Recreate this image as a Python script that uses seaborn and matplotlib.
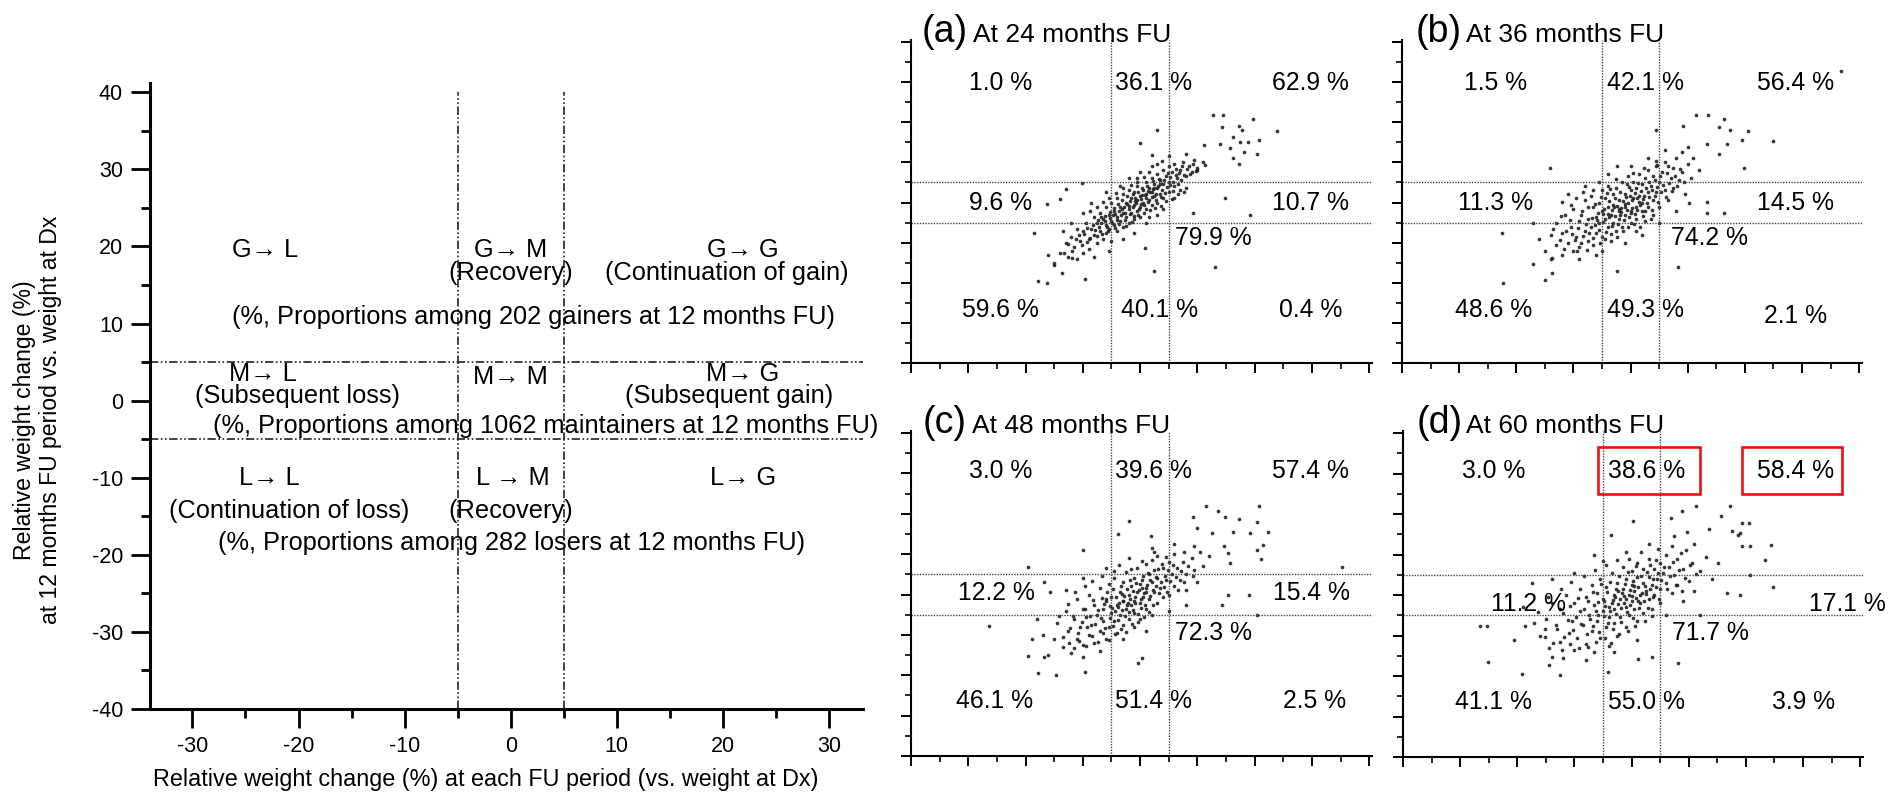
import numpy as np
import pandas as pd
import matplotlib
matplotlib.use("Agg")
import matplotlib.pyplot as plt
import seaborn as sns
from matplotlib.patches import Rectangle
from matplotlib.ticker import MultipleLocator

# ---------------- data ----------------
panel_letters = ["(a)", "(b)", "(c)", "(d)"]
panel_periods = ["At 24 months FU", "At 36 months FU", "At 48 months FU", "At 60 months FU"]

# proportions: [G->L, G->M, G->G, M->L, M->G, M->M, L->L, L->M, L->G]
pct_a = [1.0, 36.1, 62.9, 9.6, 10.7, 79.9, 59.6, 40.1, 0.4]
pct_b = [1.5, 42.1, 56.4, 11.3, 14.5, 74.2, 48.6, 49.3, 2.1]
pct_c = [3.0, 39.6, 57.4, 12.2, 15.4, 72.3, 46.1, 51.4, 2.5]
pct_d = [3.0, 38.6, 58.4, 11.2, 17.1, 71.7, 41.1, 55.0, 3.9]

threshold = 5
group_sizes = [202, 1062, 282]
group_names = ["gainers", "maintainers", "losers"]
transitions = ["G\u2192 L", "G\u2192 M", "G\u2192 G",
               "M\u2192 L", "M\u2192 M", "M\u2192 G",
               "L\u2192 L", "L \u2192 M", "L\u2192 G"]
transition_notes = ["", "(Recovery)", "(Continuation of gain)",
                    "(Subsequent loss)", "", "(Subsequent gain)",
                    "(Continuation of loss)", "(Recovery)", ""]

# scatter points (x: weight change at FU period, y: weight change at 12 months)
pts_a = [(12.7,21.8),(14.4,21.8),(14.3,18.9),(19.8,20.8),(23.9,17.9),(17.2,19.0),(17.8,18.0),
         (16.3,16.4),(20.7,15.7),(18.9,15.1),(14.0,14.7),(17.5,15.1),(15.7,13.5),(18.1,12.6),
         (20.4,12.2),(16.3,11.0),(17.2,9.7),(11.1,14.3),(2.9,18.0),(0.0,14.9),(2.1,11.8),
         (14.9,1.0),(19.2,-3.1),(13.1,-16.0),(2.5,-17.0),(-16.3,-0.4),(-13.9,0.8),(-12.9,3.3),
         (-10.2,4.9),(-18.6,-7.7),(-17.9,-19.5),(-16.3,-20.1),(-9.7,-19.1),(-15.1,-15.6),
         (-13.7,-17.6),(-13.3,-12.6),(-11.9,-13.9),(0.9,-11.4),(9.2,-2.7),(9.9,8.1),(11.4,9.3),
         (-14,-12.5),(-13,-10),(-12.5,-13.5),(-12,-8.5),(-11.5,-11),(-11,-6.5),(-10.5,-9.5),
         (-10,-12.5),(-10,-7),(-9.5,-5),(-9,-9),(-9,-11.5),(-8.5,-6.5),(-8,-3.5),(-8,-8),
         (-7.5,-10),(-7.5,-5),(-7,-2.5),(-7,-7),(-6.5,-4),(-6.5,-9),(-6,-1),(-6,-5.5),(-6,-7.5),
         (-5.5,-3),(-5.5,-6.5),(-5,0),(-5,-4.5),(-5,-9.5),(-4.5,-2),(-4.5,-5.5),(-4,1),(-4,-3.5),
         (-4,-7),(-3.5,-1),(-3.5,-4.5),(-3,2),(-3,-2.5),(-3,-6),(-2.5,0),(-2.5,-3.5),(-2,3),
         (-2,-1.5),(-2,-5),(-1.5,1),(-1.5,-2.5),(-1,2.5),(-1,-0.5),(-1,-4),(-0.5,4),(-0.5,0.5),
         (-0.5,-2),(0,1.5),(0,-1),(0,-3.5),(0.5,3),(0.5,0),(1,5),(1,2),(1,-1.5),(1.5,3.5),
         (1.5,0.5),(2,6),(2,2.5),(2,-0.5),(2.5,4.5),(2.5,1.5),(3,7),(3,3.5),(3,0),(3.5,5.5),
         (3.5,2),(4,8),(4,4.5),(4,1),(4.5,6.5),(5,9),(5,5),(5,2.5),(5.5,7.5),(6,4),(6,9.5),
         (6.5,6),(7,8),(7,3),(7.5,10),(8,6.5),(8.5,9),(9,7.5),(9.5,10.5),(10,8.5),(11,10),
         (-16,-13),(-15,-15),(-13.5,-7),(-11,-14),(-8,-13.5),(-5.5,-12),(-3,-9),(-1,-7.5),
         (1,-5),(3,-3),(-6,2.5),(-8.5,0),(-10,-2.5),(-12,-5),(4,-1.5),(6,1),(8,3.5),(-2,6),
         (0,7.5),(2,9),(5,11.5),(8,12),(-3.5,4),(-0.5,6)]
dense_a = [(-11.2,-9.1),(-10.7,-8.2),(-9.8,-7.9),(-9.3,-6.4),(-8.8,-8.8),(-8.2,-5.6),(-7.9,-6.9),
           (-7.3,-4.4),(-7.1,-6.1),(-6.8,-5.2),(-6.2,-3.3),(-6.1,-4.6),(-5.8,-6.0),(-5.3,-2.4),
           (-5.2,-3.8),(-4.9,-5.1),(-4.6,-1.3),(-4.3,-2.9),(-4.1,-4.3),(-3.8,-0.4),(-3.7,-2.1),
           (-3.3,-3.2),(-3.2,0.7),(-2.8,-1.1),(-2.7,-4.4),(-2.3,1.6),(-2.2,-0.3),(-1.8,-2.8),
           (-1.7,0.4),(-1.3,2.1),(-1.2,-1.2),(-0.8,1.2),(-0.7,-0.1),(-0.3,2.7),(-0.2,-1.6),
           (0.2,0.9),(0.3,3.6),(0.7,-0.6),(0.8,1.8),(1.2,4.2),(1.3,0.2),(1.7,2.6),(1.8,-1.9),
           (2.2,3.3),(2.3,5.3),(2.7,0.6),(2.8,2.1),(3.2,4.1),(3.3,5.9),(3.7,1.3),(3.8,3.2),
           (4.2,5.6),(4.3,2.3),(4.7,3.9),(4.8,7.4),(5.2,4.4),(5.3,6.3),(5.7,2.8),(5.8,5.1),
           (6.2,6.8),(6.3,8.4),(6.7,4.7),(6.8,7.3),(7.2,5.6),(7.3,9.2),(7.7,6.8),(8.2,8.3),
           (8.7,7.1),(9.2,9.6),(9.8,7.9),(-12.6,-10.3),(-11.8,-12.2),(-10.2,-10.7),(-9.2,-9.8),
           (-7.6,-8.4),(-6.7,-7.9),(-5.6,-7.2),(-4.4,-6.4),(-3.6,-5.4),(-2.4,-5.8),(-1.4,-4.8),
           (-0.4,-3.1),(0.6,-2.7),(1.6,-3.6),(2.6,-1.4),(3.6,-0.9),(4.6,0.3),(5.6,0.9),(6.6,2.1),
           (7.6,2.6),(-8.7,-2.1),(-7.6,-1.2),(-6.4,0.2),(-5.4,1.1),(-4.2,2.4),(-2.9,3.7),
           (-1.6,4.4),(-0.6,5.2),(0.6,6.3),(1.6,7.6),(2.9,9.6),(3.9,10.3),(-3.1,-1.7),(-1.9,-0.8),
           (-0.9,0.3),(0.1,-0.4),(1.1,1.1),(2.1,1.4),(-2.6,-2.6),(-1.1,-3.3),(0.4,1.9),(1.4,2.9),
           (2.4,3.6),(3.4,4.7),(-4.8,-3.1),(-6.9,-3.6)]

pts_b = [(36.9,32.8),(11.5,21.8),(13.5,21.8),(16.3,20.7),(15.4,18.9),(17.4,18.0),(20.6,17.9),
         (9.2,19.0),(25.0,15.3),(19.5,15.7),(13.4,14.7),(16.9,14.7),(15.4,12.2),(10.1,13.9),
         (4.5,18.0),(19.9,8.5),(-14.1,8.7),(-22.5,-7.7),(-22.3,-20.1),(-17.0,-15.3),
         (-14.9,-19.3),(-13.8,-17.6),(-13.8,-13.9),(-2.4,-17.0),(8.3,-16.0),(13.4,-2.7),
         (13.4,0.2),(16.3,-2.7),(10.3,-0.2),(4.6,9.3),(-2.4,9.2),(-12.0,0.2),
         (-15,-12),(-14,-8),(-13,-10.5),(-13,-5),(-12,-13),(-12,-7.5),(-11.5,-3),(-11,-10),
         (-10.5,-6),(-10,-12),(-10,-1.5),(-9.5,-8.5),(-9,-4.5),(-9,-11),(-8.5,-2),(-8,-7),
         (-8,0.5),(-7.5,-9.5),(-7.5,-4),(-7,-6),(-7,1.5),(-6.5,-1),(-6.5,-10.5),(-6,-3.5),
         (-6,-7.5),(-5.5,0),(-5.5,-5),(-5,3),(-5,-2),(-5,-8.5),(-4.5,-4),(-4.5,1),(-4,-6),
         (-4,-1),(-4,4),(-3.5,-3),(-3.5,-9.5),(-3,2),(-3,-5),(-3,-0.5),(-2.5,-7),(-2.5,3.5),
         (-2,-2),(-2,0.5),(-2,-4),(-1.5,5),(-1.5,-6),(-1,-1),(-1,2),(-1,-3),(-0.5,6.5),
         (-0.5,0),(0,-2.5),(0,3),(0,-5),(0.5,1),(0.5,5),(1,-1),(1,3.5),(1,-4),(1.5,7),
         (1.5,1.5),(2,-2),(2,4.5),(2,0),(2.5,6),(2.5,-4.5),(3,2.5),(3,8),(3,-1),(3.5,4),
         (4,0.5),(4,6.5),(4,-3),(4.5,9),(4.5,2.5),(5,5),(5,-1),(5.5,7.5),(6,3),(6,10),
         (6.5,0.5),(7,6),(7.5,8.5),(7.5,3.5),(8,11),(8.5,5.5),(9,7.5),(9.5,2),(10,9.5),
         (10.5,6),(11,11),(12,8),(-16,-9),(-14,-14),(-9,-14),(-5,-12),(-1,-10),(2,-8),(5,-5),
         (-11,2),(-8,4),(-4,7),(0,9),(3,11),(6,13),(9,12.5),(-17,-5),(-6,-13),(1,-7),(8,-2)]
dense_b = [(-11.3,-7.2),(-10.6,-4.4),(-9.7,-9.3),(-9.2,-6.3),(-8.7,-3.1),(-8.3,-8.4),(-7.8,-5.3),
           (-7.4,-1.2),(-7.2,-7.6),(-6.8,-3.8),(-6.3,-5.7),(-6.2,-0.3),(-5.7,-2.6),(-5.6,-6.8),
           (-5.2,1.4),(-4.8,-4.9),(-4.7,-1.6),(-4.3,-7.3),(-4.2,2.3),(-3.8,-3.6),(-3.7,0.4),
           (-3.3,-5.8),(-3.2,-1.9),(-2.8,1.2),(-2.7,-3.3),(-2.3,-0.8),(-2.2,-5.4),(-1.8,2.7),
           (-1.7,-2.4),(-1.3,0.3),(-1.2,-4.3),(-0.8,1.4),(-0.7,-1.8),(-0.3,3.8),(-0.2,-3.6),
           (0.2,0.6),(0.3,-1.4),(0.7,2.4),(0.8,-2.9),(1.2,1.1),(1.3,4.8),(1.7,-0.6),(1.8,2.9),
           (2.2,-3.3),(2.3,1.7),(2.7,3.6),(2.8,-0.2),(3.2,5.2),(3.3,1.3),(3.7,-1.8),(3.8,3.1),
           (4.2,5.7),(4.3,1.7),(4.7,3.8),(4.8,0.1),(5.2,6.6),(5.3,2.6),(5.7,4.4),(6.2,1.4),
           (6.3,7.3),(6.7,4.9),(7.2,2.8),(7.7,6.6),(8.2,4.2),(8.7,8.3),(9.3,5.1),(-12.4,-9.4),
           (-11.7,-11.6),(-10.3,-7.9),(-9.4,-12.1),(-8.6,-10.2),(-7.6,-11.8),(-6.6,-8.9),
           (-5.4,-10.1),(-4.4,-9.2),(-3.4,-7.9),(-2.4,-8.6),(-1.4,-7.1),(-0.4,-6.2),(0.6,-5.3),
           (1.6,-6.1),(2.6,-2.2),(3.6,-4.2),(-13.6,-6.6),(-12.2,-3.4),(-10.4,-0.6),(-9.6,1.1),
           (-8.4,2.6),(-6.6,3.2),(-5.6,5.1),(-3.6,3.3),(-2.6,5.8),(-0.6,4.6),(0.4,7.4),(2.4,8.7),
           (4.4,10.3),(6.6,9.1),(-3.9,-2.8),(-2.9,-1.2),(-1.9,-3.1),(-0.9,-0.4),(0.1,-2.2),
           (1.1,-1.9),(2.1,0.8),(-4.9,-2.9),(-5.9,-4.3),(-1.6,-1.3),(-0.1,1.6),(1.4,0.2),(-2.1,-1.7)]

pts_c = [(11.5,21.8),(13.6,20.7),(14.9,19.3),(17.2,18.8),(20.7,21.8),(9.2,19.1),(20.5,17.9),
         (-2.0,18.1),(-3.8,15.0),(1.9,14.4),(9.9,16.4),(12.5,15.2),(16.3,15.6),(19.2,15.2),
         (22.3,15.4),(14.6,12.1),(21.4,12.3),(15.4,10.2),(20.4,11.1),(21.1,8.8),(15.7,7.9),
         (35.2,6.9),(-10.0,11.1),(-19.5,6.8),(-26.4,-7.8),(-18.9,-11.1),(-19.6,-15.2),
         (-16.8,-15.5),(-17.8,-19.5),(-14.7,-19.9),(-9.7,-19.1),(-0.3,-17.0),(0.4,-15.8),
         (19.1,-0.1),(15.4,-0.1),(14.3,-2.7),(20.4,-5.0),(-15.7,0.5),(-16.8,3.0),
         (-15,-11),(-14.5,-7),(-13.5,-13),(-13,-4),(-12.5,-9),(-12,-14.5),(-11.5,-6),
         (-11,-11),(-11,-1),(-10.5,-8),(-10,-3.5),(-10,-12.5),(-9.5,-5.5),(-9,-10),(-9,0),
         (-8.5,-7.5),(-8,-2.5),(-8,-12),(-7.5,-5),(-7,1.5),(-7,-9),(-6.5,-3.5),(-6.5,-6.5),
         (-6,-1),(-6,-11),(-5.5,-8),(-5.5,2.5),(-5,-4.5),(-5,-0.5),(-4.5,-6.5),(-4.5,4),
         (-4,-2.5),(-4,-9.5),(-3.5,0.5),(-3.5,-5),(-3,3),(-3,-7.5),(-3,-1.5),(-2.5,-3.5),
         (-2.5,5.5),(-2,0),(-2,-6),(-1.5,2),(-1.5,-2.5),(-1,-4.5),(-1,4),(-1,-8),(-0.5,0.5),
         (-0.5,6.5),(0,-2),(0,2.5),(0,-6),(0.5,4.5),(0.5,-0.5),(1,7.5),(1,1.5),(1,-3.5),
         (1.5,5),(1.5,-1),(2,3),(2,8.5),(2,-5),(2.5,0.5),(2.5,6),(3,-2),(3,4),(3,9.5),
         (3.5,1.5),(4,6.5),(4,-0.5),(4.5,3.5),(5,8),(5,0),(5.5,5),(6,2),(6,10),(6.5,6.5),
         (7,3.5),(7.5,8),(8,5),(8,1),(9,9),(9.5,6),(10,3),(10.5,10.5),(11,7),(12,9.5),
         (-17,-10),(-16,-15),(-10,-15.5),(-7,-14),(-3,-11),(1,-9),(-13,1),(-10,4),(-6,6.5),
         (-2,9),(2,11.5),(6,12.5),(9.5,12),(-18,-6),(5,-4),(8,-2.5)]
dense_c = [(-12.3,-8.4),(-11.7,-5.2),(-10.8,-9.6),(-10.2,-6.7),(-9.7,-3.6),(-9.3,-8.1),(-8.7,-5.4),
           (-8.2,-1.3),(-7.8,-7.2),(-7.3,-3.8),(-6.8,-5.7),(-6.7,-0.8),(-6.3,-2.3),(-6.2,-8.3),
           (-5.7,0.6),(-5.3,-5.9),(-5.2,-2.8),(-4.8,-7.8),(-4.7,1.4),(-4.3,-4.2),(-4.2,-0.6),
           (-3.8,-6.2),(-3.7,-2.1),(-3.3,2.2),(-3.2,-3.8),(-2.8,-0.4),(-2.7,-5.3),(-2.3,1.3),
           (-2.2,-2.7),(-1.8,3.6),(-1.7,-1.1),(-1.3,-3.9),(-1.2,0.9),(-0.8,-2.2),(-0.7,2.9),
           (-0.3,-4.9),(-0.2,1.2),(0.2,-1.2),(0.3,3.6),(0.7,0.4),(0.8,-2.6),(1.2,2.3),(1.3,5.4),
           (1.7,-0.3),(1.8,3.7),(2.2,1.1),(2.3,-2.6),(2.7,4.4),(2.8,2.2),(3.2,6.3),(3.3,0.3),
           (3.7,3.1),(3.8,7.6),(4.2,1.8),(4.3,4.7),(4.7,0.6),(4.8,6.1),(5.2,3.3),(5.7,7.2),
           (6.2,4.3),(6.7,1.2),(7.2,5.9),(7.7,3.2),(8.4,7.1),(9.2,4.6),(-13.4,-10.6),(-12.4,-12.1),
           (-11.6,-13.2),(-10.6,-11.4),(-9.4,-12.7),(-8.4,-10.3),(-7.4,-11.7),(-6.4,-9.6),
           (-5.4,-11.2),(-4.4,-9.9),(-3.4,-8.6),(-2.4,-9.3),(-1.4,-7.2),(-0.4,-6.8),(0.6,-5.6),
           (1.6,-4.4),(-14.1,-5.3),(-12.6,-2.3),(-11.4,0.6),(-9.6,2.2),(-8.4,3.4),(-6.6,4.6),
           (-4.6,5.9),(-3.6,7.4),(-1.6,6.3),(0.4,8.4),(2.4,10.6),(4.6,9.3),(7.6,10.6),(-3.9,-3.1),
           (-2.9,-1.6),(-1.9,-4.4),(-0.9,-0.7),(0.1,-3.3),(1.1,0.6),(-4.9,-3.4),(-5.9,-1.6),
           (-2.1,-2.1),(-1.1,-1.7),(0.4,1.7),(-3.1,0.2)]

pts_d = [(11.3,21.9),(17.3,21.9),(8.8,20.7),(6.9,19.0),(0.3,18.2),(15.6,19.4),(20.6,17.9),
         (19.3,17.9),(13.6,16.3),(17.6,15.7),(18.6,14.9),(19.0,15.3),(-3.6,14.9),(7.5,14.5),
         (9.7,15.5),(24.4,12.4),(20.8,12.1),(19.3,12.0),(23.4,8.7),(15.2,7.9),(20.8,5.0),
         (24.7,2.1),(18.9,0.0),(16.7,0.4),(12.0,-5.0),(8.1,-16.9),(-6.6,9.9),(-26.5,-7.7),
         (-25.3,-7.7),(-18.7,-7.7),(-20.5,-11.0),(-17.4,2.9),(-25.2,-16.5),(-19.2,-19.4),
         (-12.5,-19.8),(-14.5,-17.4),(-15.1,-10.3),(-13.9,-15.3),(-4.1,-19.0),(1.2,-15.7),
         (3.6,-15.3),
         (-16,-10),(-15,-6),(-14.5,-13),(-14,-2),(-13,-8.5),(-12.5,-11.5),(-12,-4.5),
         (-11.5,0),(-11,-9.5),(-10.5,-6.5),(-10,-13.5),(-10,-2),(-9.5,-10.5),(-9,-4),
         (-9,1.5),(-8.5,-7.5),(-8,-0.5),(-8,-12),(-7.5,-5),(-7,2.5),(-7,-9),(-6.5,-2.5),
         (-6.5,-14),(-6,-6.5),(-6,0.5),(-5.5,-10.5),(-5.5,4),(-5,-4),(-5,-1),(-4.5,-8),
         (-4.5,2),(-4,-5.5),(-4,-12.5),(-3.5,-2),(-3.5,5.5),(-3,0),(-3,-7),(-3,-3.5),
         (-2.5,3),(-2.5,-10),(-2,-1),(-2,-5.5),(-1.5,1.5),(-1.5,7),(-1,-3),(-1,4),(-1,-8),
         (-0.5,0),(-0.5,-5),(0,2.5),(0,-1.5),(0,6),(0.5,-3.5),(0.5,1),(1,4.5),(1,-6.5),
         (1,8),(1.5,0),(1.5,-2),(2,3),(2,6.5),(2,-4.5),(2.5,1),(3,4.5),(3,-1),(3,9),
         (3.5,2.5),(3.5,-3.5),(4,6.5),(4,0),(4.5,4),(5,8),(5,1.5),(5,-2),(5.5,5.5),(6,10),
         (6,3),(6.5,7),(7,0.5),(7.5,5),(8,9),(8,2.5),(9,6.5),(9.5,11),(10,3.5),(10.5,8),
         (11,1),(12,6),(13,9.5),(-17,-7),(-12,-15.5),(-8,-16),(-3,-14),(1,-11),(-14,4),
         (-10,5.5),(-5,8.5),(-1,10.5),(3,12.5),(7,12),(11,12.5),(-19,-3),(6,-5),(9,-1.5),(14,4)]
dense_d = [(-13.2,-7.3),(-12.6,-3.4),(-11.8,-10.3),(-11.2,-6.1),(-10.7,-2.8),(-10.3,-8.6),
           (-9.7,-5.4),(-9.3,-0.7),(-8.8,-7.1),(-8.3,-3.4),(-7.8,-9.6),(-7.7,-1.6),(-7.3,-5.8),
           (-6.8,0.8),(-6.7,-7.6),(-6.3,-3.9),(-5.8,-1.7),(-5.7,-9.1),(-5.3,2.6),(-4.8,-5.2),
           (-4.7,-2.6),(-4.3,0.7),(-4.2,-6.8),(-3.8,-3.9),(-3.7,3.3),(-3.3,-1.2),(-3.2,-8.4),
           (-2.8,1.6),(-2.7,-4.6),(-2.3,-2.3),(-2.2,4.7),(-1.8,-6.6),(-1.7,0.4),(-1.3,-1.9),
           (-1.2,2.8),(-0.8,-4.3),(-0.7,5.6),(-0.3,-2.4),(-0.2,1.2),(0.2,-5.7),(0.3,3.4),
           (0.7,-0.8),(0.8,7.1),(1.2,1.9),(1.3,-3.1),(1.7,4.8),(1.8,0.6),(2.2,-1.4),(2.3,2.3),
           (2.7,5.6),(2.8,-3.2),(3.2,1.6),(3.3,7.4),(3.7,3.9),(3.8,-0.6),(4.2,2.1),(4.3,8.6),
           (4.7,5.4),(4.8,-1.1),(5.2,3.6),(5.7,6.9),(6.2,1.6),(6.7,4.6),(7.2,8.2),(7.7,2.4),
           (8.3,6.1),(8.8,0.9),(9.4,4.3),(10.2,7.4),(11.3,5.1),(-15.2,-8.3),(-13.8,-11.8),
           (-12.2,-13.6),(-10.8,-12.1),(-9.2,-13.2),(-7.6,-12.9),(-6.2,-11.6),(-4.6,-10.6),
           (-3.6,-11.9),(-2.2,-9.6),(-0.6,-8.9),(0.6,-7.6),(2.4,-6.3),(3.6,-5.1),(-16.4,-4.1),
           (-14.6,-0.6),(-12.4,1.6),(-10.6,3.1),(-8.4,4.6),(-6.4,6.1),(-4.4,7.3),(-2.6,8.6),
           (-0.4,8.9),(1.6,10.6),(4.6,11.4),(8.6,10.4),(-3.9,-2.9),(-2.9,-0.6),(-1.9,-3.3),
           (-0.9,-1.1),(0.1,-0.3),(1.1,-1.6),(-4.9,-1.4),(-5.9,-4.9),(-1.4,-0.2),(0.4,2.2),
           (-2.4,0.9),(2.6,0.2)]

# ---------------- style ----------------
sns.set_theme(style="ticks")
plt.rcParams["font.family"] = ["Liberation Sans", "DejaVu Sans"]
plt.rcParams["axes.unicode_minus"] = False
plt.rcParams["axes.edgecolor"] = "black"
plt.rcParams["xtick.color"] = "black"
plt.rcParams["ytick.color"] = "black"
plt.rcParams["text.color"] = "black"
plt.rcParams["axes.labelcolor"] = "black"

W, H = 1897, 798
fig = plt.figure(figsize=(W / 100, H / 100), dpi=100)


def px_axes(left, top, right, bottom):
    return fig.add_axes([left / W, 1 - bottom / H, (right - left) / W, (bottom - top) / H])


# ---------------- left schematic panel ----------------
ax0 = px_axes(150, 83, 863, 709)
ax0.set_xlim(-34, 33.2)
ax0.set_ylim(-40, 41.2)
sns.despine(ax=ax0)
for s in ("left", "bottom"):
    ax0.spines[s].set_linewidth(2.2)
ax0.xaxis.set_major_locator(MultipleLocator(10))
ax0.xaxis.set_minor_locator(MultipleLocator(5))
ax0.yaxis.set_major_locator(MultipleLocator(10))
ax0.yaxis.set_minor_locator(MultipleLocator(5))
ax0.tick_params(which="major", direction="out", length=13.5, width=2.0, labelsize=15.5, pad=6)
ax0.tick_params(which="minor", direction="out", length=6.5, width=2.0)
ax0.set_xticks([-30, -20, -10, 0, 10, 20, 30])
ax0.set_yticks([-40, -30, -20, -10, 0, 10, 20, 30, 40])

ls_dd = (0, (5, 1.5, 1, 1.5, 1, 1.5))
for v in (-threshold, threshold):
    ax0.vlines(v, -40, 40, colors="#222222", linestyles=[ls_dd], linewidth=1.2)
    ax0.axhline(v, color="#222222", linestyle=ls_dd, linewidth=1.2)

tx = [(-23.2, 19.5), (0.0, 19.5), (21.9, 19.5),
      (-23.4, 3.4), (0.0, 3.0), (21.9, 3.4),
      (-22.8, -10.1), (0.2, -10.1), (21.9, -10.1)]
nx = [None, (0.0, 16.5), (20.4, 16.5),
      (-20.1, 0.55), None, (20.6, 0.55),
      (-20.9, -14.3), (0.0, -14.3), None]
for lab, note, p, q in zip(transitions, transition_notes, tx, nx):
    ax0.text(p[0], p[1], lab, ha="center", va="center", fontsize=18.3)
    if note:
        ax0.text(q[0], q[1], note, ha="center", va="center", fontsize=18.3)
note_pos = [(2.1, 10.9), (3.3, -3.3), (0.1, -18.5)]
for n, g, p in zip(group_sizes, group_names, note_pos):
    ax0.text(p[0], p[1], f"(%, Proportions among {n} {g} at 12 months FU)",
             ha="center", va="center", fontsize=18.3)

ax0.set_xlabel("Relative weight change (%) at each FU period (vs. weight at Dx)",
               fontsize=16.8, va="center")
ax0.xaxis.set_label_coords(0.471, -0.113)
ax0.set_ylabel("Relative weight change (%)\nat 12 months FU period vs. weight at Dx",
               fontsize=16.6, va="center", linespacing=1.15)
ax0.yaxis.set_label_coords(-0.158, 0.462)

# ---------------- four scatter panels ----------------
boxes = [(911, 40, 1372, 363), (1402, 40, 1862, 363),
         (911, 431, 1372, 756), (1403, 431, 1863, 757)]
all_pts = [pts_a + dense_a, pts_b + dense_b, pts_c + dense_c, pts_d + dense_d]
all_pct = [pct_a, pct_b, pct_c, pct_d]
pct_pos = [
    [(-24.4, 29.8), (2.4, 29.8), (29.7, 29.8), (-24.4, 0), (29.8, 0), (12.8, -8.8),
     (-24.4, -26.7), (3.4, -26.7), (29.8, -26.7)],
    [(-23.7, 29.8), (2.7, 29.8), (28.8, 29.8), (-23.7, 0), (28.8, 0), (13.9, -8.8),
     (-24.0, -26.7), (2.7, -26.7), (28.8, -28.2)],
    [(-24.4, 30.5), (2.4, 30.5), (29.7, 30.5), (-25.1, 0.3), (30.0, 0.3), (12.8, -9.6),
     (-25.4, -26.4), (2.4, -26.4), (30.4, -26.4)],
    [(-24.1, 30.6), (2.6, 30.6), (28.7, 30.6), (-18.1, -2.2), (37.7, -2.2), (13.8, -9.5),
     (-24.1, -26.3), (2.6, -26.3), (30.1, -26.3)],
]
letter_x = [0.024, 0.029, 0.026, 0.029]
period_x = [0.135, 0.139, 0.133, 0.136]

for i, (bx, pts, pcts, pos) in enumerate(zip(boxes, all_pts, all_pct, pct_pos)):
    ax = px_axes(*bx)
    df = pd.DataFrame(pts, columns=["x", "y"])
    sns.scatterplot(data=df, x="x", y="y", ax=ax, s=7, color="#222222",
                    linewidth=0, alpha=0.9, legend=False)
    ax.set_xlim(-40, 40.5)
    ax.set_ylim(-40, 40.5)
    sns.despine(ax=ax)
    for s in ("left", "bottom"):
        ax.spines[s].set_linewidth(1.5)
    ax.xaxis.set_major_locator(MultipleLocator(10))
    ax.xaxis.set_minor_locator(MultipleLocator(5))
    ax.yaxis.set_major_locator(MultipleLocator(10))
    ax.yaxis.set_minor_locator(MultipleLocator(5))
    ax.tick_params(which="major", direction="out", length=7, width=1.4,
                   labelbottom=False, labelleft=False)
    ax.tick_params(which="minor", direction="out", length=4, width=1.2)
    ax.set_xlabel("")
    ax.set_ylabel("")
    for v in (-threshold, threshold):
        ax.axvline(v, color="#444444", linestyle=(0, (1, 1)), linewidth=1.0)
        ax.axhline(v, color="#444444", linestyle=(0, (1, 1)), linewidth=1.0)
    for v, p in zip(pcts, pos):
        ax.text(p[0], p[1], f"{v:.1f} %", ha="center", va="center", fontsize=17.8)
    ax.text(letter_x[i], 0.995, panel_letters[i], transform=ax.transAxes,
            ha="left", va="baseline", fontsize=27)
    ax.text(period_x[i], 0.995, panel_periods[i], transform=ax.transAxes,
            ha="left", va="baseline", fontsize=19)
    if i == 3:
        for (x0, x1) in [(-5.8, 11.9), (19.3, 36.9)]:
            ax.add_patch(Rectangle((x0, 25.0), x1 - x0, 11.6, fill=False,
                                   edgecolor="#ee1111", linewidth=1.9, clip_on=False))

fig.savefig("out.png", dpi=100)
